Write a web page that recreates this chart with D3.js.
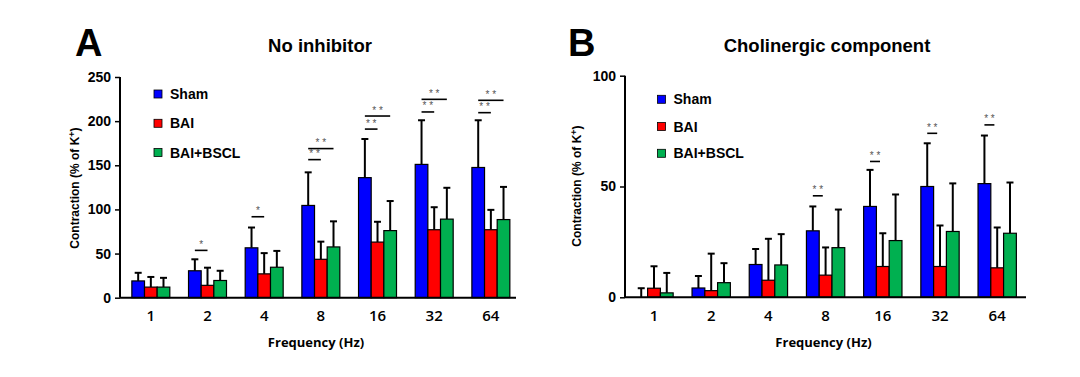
<!DOCTYPE html>
<html>
<head>
<meta charset="utf-8">
<script src="https://cdn.jsdelivr.net/npm/d3@7"></script>
<style>
  html, body { margin: 0; padding: 0; background: #fff; }
  svg { display: block; }
</style>
</head>
<body>
<svg id="chart" width="1080" height="377"></svg>
<script>
// ---------- DATA ----------
const frequencies = ["1", "2", "4", "8", "16", "32", "64"];
const seriesNames = ["Sham", "BAI", "BAI+BSCL"];
const seriesColors = ["#0000ff", "#ff0000", "#00b050"];

// Panel A: No inhibitor (mean, and mean+SD top of error bar)
const shamA     = [19, 30.5, 56.5, 104.5, 136, 151, 147.5];
const shamAErr  = [28.2, 43.5, 79.5, 142, 179.8, 201, 201];
const baiA      = [12, 14, 27, 43.5, 63, 77, 77];
const baiAErr   = [23.5, 34, 50.5, 63.5, 86, 102.5, 99.5];
const bsclA     = [12, 19.5, 34.5, 57.5, 76, 89, 88.5];
const bsclAErr  = [22.5, 30.5, 53, 86.5, 109.5, 124.5, 125.5];
const ticksA    = [0, 50, 100, 150, 200, 250];
// significance marks: [group, fromSeries, toSeries, level, label]
const sigA = [
  ["2", 0, 1, 53.6, "*"],
  ["4", 0, 1, 91.7, "*"],
  ["8", 0, 1, 156.4, "* *"], ["8", 0, 2, 168.9, "* *"],
  ["16", 0, 1, 191, "* *"], ["16", 0, 2, 205.8, "* *"],
  ["32", 0, 1, 210.4, "* *"], ["32", 0, 2, 224.7, "* *"],
  ["64", 0, 1, 209.6, "* *"], ["64", 0, 2, 223.6, "* *"]
];

// Panel B: Cholinergic component
const shamB     = [0, 4.2, 14.8, 30, 41, 50, 51.3];
const shamBErr  = [4.1, 9.6, 21.8, 41, 57.5, 69.5, 73];
const baiB      = [4.1, 3, 7.7, 10, 13.9, 13.9, 13.3];
const baiBErr   = [14, 19.7, 26.4, 22.5, 28.9, 32.4, 31.5];
const bsclB     = [2, 6.6, 14.6, 22.4, 25.6, 29.7, 28.9];
const bsclBErr  = [11, 15.4, 28.5, 39.6, 46.4, 51.4, 51.8];
const ticksB    = [0, 50, 100];
const sigB = [
  ["8", 0, 1, 45.8, "* *"],
  ["16", 0, 1, 61.3, "* *"],
  ["32", 0, 1, 74, "* *"],
  ["64", 0, 1, 77.8, "* *"]
];

// ---------- DRAW ----------
const svg = d3.select("#chart");
svg.append("rect").attr("width", 1080).attr("height", 377).attr("fill", "#fff");

function panel(cfg) {
  const g = svg.append("g");
  const y = d3.scaleLinear().domain([0, cfg.yMax]).range([cfg.y0, cfg.y1]);
  const x = d3.scaleBand().domain(frequencies).range(cfg.xRange)
    .paddingInner(0.33).paddingOuter(0.165);
  const xs = d3.scaleBand().domain(d3.range(3)).range([0, x.bandwidth()]);

  const means = cfg.means, errs = cfg.errs;

  // error bars (drawn under bars)
  const errG = g.append("g").attr("stroke", "#000").attr("stroke-width", 2);
  means.forEach((arr, si) => {
    arr.forEach((v, i) => {
      const cx = x(frequencies[i]) + xs(si) + xs.bandwidth() / 2;
      errG.append("line").attr("x1", cx).attr("x2", cx)
        .attr("y1", y(v)).attr("y2", y(errs[si][i]));
      errG.append("line").attr("x1", cx - 3.5).attr("x2", cx + 3.5)
        .attr("y1", y(errs[si][i])).attr("y2", y(errs[si][i]));
    });
  });

  // bars
  means.forEach((arr, si) => {
    g.append("g").selectAll("rect").data(arr).join("rect")
      .attr("x", (d, i) => x(frequencies[i]) + xs(si))
      .attr("y", d => y(d))
      .attr("width", xs.bandwidth())
      .attr("height", d => y(0) - y(d))
      .attr("fill", seriesColors[si])
      .attr("stroke", d => d > 0 ? "#000" : "none")
      .attr("stroke-width", 1.2);
  });

  // y axis
  const yAxis = d3.axisLeft(y).tickValues(cfg.ticks).tickSize(5).tickPadding(4);
  const ya = g.append("g").attr("transform", `translate(${cfg.axisX},0)`).call(yAxis);
  ya.select(".domain").remove();
  ya.append("line").attr("x1", 0).attr("x2", 0).attr("y1", y(0)).attr("y2", y(cfg.yMax))
    .attr("stroke", "#000").attr("stroke-width", 2);
  ya.selectAll(".tick line").attr("stroke", "#000").attr("stroke-width", 1.5);
  ya.selectAll(".tick text").attr("font-family", "Liberation Sans, Arial, sans-serif")
    .attr("font-weight", "bold").attr("font-size", 14).attr("fill", "#000");

  // x axis
  const xAxis = d3.axisBottom(x).tickSize(0).tickPadding(13);
  const xa = g.append("g").attr("transform", `translate(0,${y(0)})`).call(xAxis);
  xa.select(".domain").remove();
  xa.append("line").attr("x1", cfg.axisX).attr("x2", cfg.axisEnd).attr("y1", 0).attr("y2", 0)
    .attr("stroke", "#000").attr("stroke-width", 2);
  xa.selectAll(".tick text").attr("font-family", "Open Sans, Noto Sans, sans-serif")
    .attr("font-weight", 600).attr("font-size", 15).attr("fill", "#000");

  // axis titles
  g.append("text").attr("x", (cfg.axisX + cfg.axisEnd) / 2 - 2).attr("y", 347)
    .attr("text-anchor", "middle").attr("font-family", "Open Sans, Noto Sans, sans-serif")
    .attr("font-weight", "bold").attr("font-size", 13).text("Frequency (Hz)");
  const yt = g.append("text")
    .attr("transform", `translate(${cfg.yTitleX},${cfg.yTitleY}) rotate(-90)`)
    .attr("text-anchor", "middle").attr("font-family", "Liberation Sans, Arial, sans-serif")
    .attr("font-weight", "bold").attr("font-size", 12);
  yt.append("tspan").text("Contraction (% of K");
  yt.append("tspan").attr("dy", -4).attr("font-size", 9).text("+");
  yt.append("tspan").attr("dy", 4).text(")");

  // title and letter
  g.append("text").attr("x", cfg.titleX).attr("y", 52).attr("text-anchor", "middle")
    .attr("font-family", "Liberation Sans, Arial, sans-serif").attr("font-weight", "bold")
    .attr("font-size", 18.5).text(cfg.title);
  g.append("text").attr("x", cfg.letterX).attr("y", 56)
    .attr("font-family", "Liberation Sans, Arial, sans-serif").attr("font-weight", "bold")
    .attr("font-size", 38).text(cfg.letter);

  // legend
  seriesNames.forEach((name, si) => {
    const ly = cfg.legendY[si];
    g.append("rect").attr("x", cfg.legendX).attr("y", ly - 4).attr("width", 8).attr("height", 8)
      .attr("fill", seriesColors[si]).attr("stroke", "#000").attr("stroke-width", 0.8);
    g.append("text").attr("x", cfg.legendX + 16).attr("y", ly + 5)
      .attr("font-family", "Liberation Sans, Arial, sans-serif").attr("font-weight", "bold")
      .attr("font-size", 14).text(name);
  });

  // significance marks
  cfg.sig.forEach(([grp, a, b, lvl, lab]) => {
    const ca = x(grp) + xs(a) + xs.bandwidth() / 2;
    let cb = x(grp) + xs(b) + xs.bandwidth() / 2;
    if (cfg.shortSig) cb = ca + xs.bandwidth() * 0.78;
    g.append("line").attr("x1", ca).attr("x2", cb).attr("y1", y(lvl)).attr("y2", y(lvl))
      .attr("stroke", "#000").attr("stroke-width", 1.6);
    g.append("text").attr("x", (ca + cb) / 2).attr("y", y(lvl) - 2.5).attr("text-anchor", "middle")
      .attr("font-family", "Liberation Sans, Arial, sans-serif").attr("font-size", 10)
      .attr("fill", "#555").text(lab);
  });
}

panel({
  yMax: 250, y0: 297.7, y1: 77, ticks: ticksA,
  xRange: [122.5, 519.2], axisX: 120, axisEnd: 516,
  means: [shamA, baiA, bsclA], errs: [shamAErr, baiAErr, bsclAErr],
  yTitleX: 79, yTitleY: 188, title: "No inhibitor", titleX: 320,
  letter: "A", letterX: 75, legendX: 154, legendY: [94, 123.3, 152.5],
  sig: sigA, shortSig: false
});

panel({
  yMax: 100, y0: 297.3, y1: 75.7, ticks: ticksB,
  xRange: [625.4, 1025.8], axisX: 625, axisEnd: 1026,
  means: [shamB, baiB, bsclB], errs: [shamBErr, baiBErr, bsclBErr],
  yTitleX: 581, yTitleY: 186, title: "Cholinergic component", titleX: 827,
  letter: "B", letterX: 568, legendX: 657.5, legendY: [99.3, 126.5, 153.3],
  sig: sigB, shortSig: true
});
</script>
</body>
</html>
